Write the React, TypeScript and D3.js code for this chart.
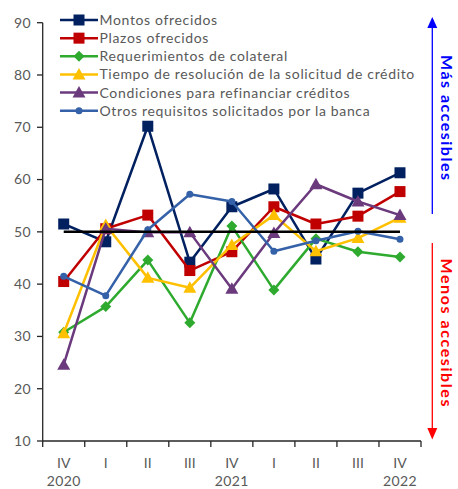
import React from "react";
import * as d3 from "d3";

const categories = ["IV-2020", "I-2021a", "II-2021a", "III-2021a", "IV-2021", "I-2022a", "II-2022a", "III-2022a", "IV-2022"];
const quarterLabels = ["IV", "I", "II", "III", "IV", "I", "II", "III", "IV"];
const yearLabels = ["2020", "", "", "", "2021", "", "", "", "2022"];
const yTicks = [10, 20, 30, 40, 50, 60, 70, 80, 90];

const montos = [51.5, 48.1, 70.2, 44.2, 54.8, 58.2, 44.8, 57.4, 61.3];
const plazos = [40.5, 50.6, 53.2, 42.6, 46.2, 54.8, 51.5, 53.0, 57.7];
const colateral = [30.8, 35.7, 44.6, 32.6, 51.1, 38.9, 48.7, 46.2, 45.2];
const tiempo = [30.6, 51.3, 41.2, 39.3, 47.5, 53.2, 46.3, 48.8, 52.7];
const condiciones = [24.6, 50.6, 49.9, 49.9, 39.1, 49.8, 59.1, 55.8, 53.2];
const otros = [41.5, 37.8, 50.4, 57.2, 55.8, 46.3, 48.3, 50.1, 48.6];

const seriesNames = [
  "Montos ofrecidos",
  "Plazos ofrecidos",
  "Requerimientos de colateral",
  "Tiempo de resolución de la solicitud de crédito",
  "Condiciones para refinanciar créditos",
  "Otros requisitos solicitados por la banca",
];

const series = [
  { name: seriesNames[0], values: montos, color: "#002060", marker: "square" },
  { name: seriesNames[1], values: plazos, color: "#C00000", marker: "square" },
  { name: seriesNames[2], values: colateral, color: "#2EAA2E", marker: "diamond" },
  { name: seriesNames[3], values: tiempo, color: "#FFC000", marker: "triangle" },
  { name: seriesNames[4], values: condiciones, color: "#6B3A7D", marker: "triangle" },
  { name: seriesNames[5], values: otros, color: "#3461A8", marker: "circle" },
];

const W = 458;
const H = 489;
const FONT = "Lato, 'Liberation Sans', sans-serif";

function Marker({ type, x, y, color }: { type: string; x: number; y: number; color: string }) {
  if (type === "square") return <rect x={x - 5.5} y={y - 5.5} width={11} height={11} fill={color} />;
  if (type === "diamond") return <path d={`M${x},${y - 5.5}L${x + 5.5},${y}L${x},${y + 5.5}L${x - 5.5},${y}Z`} fill={color} />;
  if (type === "triangle") return <path d={`M${x},${y - 6.5}L${x + 6.5},${y + 5}L${x - 6.5},${y + 5}Z`} fill={color} />;
  return <circle cx={x} cy={y} r={3.5} fill={color} />;
}

export default function App() {
  const x = d3.scaleBand<string>().domain(categories).range([42.7, 421]);
  const y = d3.scaleLinear().domain([10, 90]).range([441, 22.7]);
  const cx = (c: string) => (x(c) as number) + x.bandwidth() / 2;
  const line = d3
    .line<number>()
    .x((_, i) => cx(categories[i]))
    .y((d) => y(d));

  const tickXs = [...categories.map((c) => x(c) as number), x.range()[1]];

  return (
    <svg width={W} height={H} style={{ position: "absolute", left: 0, top: 0 }} fontFamily={FONT}>
      <rect width={W} height={H} fill="#fff" />
      {/* y axis */}
      <line x1={42.7} x2={42.7} y1={y(90)} y2={y(10)} stroke="#262626" strokeWidth={1.3} />
      {yTicks.map((t) => (
        <g key={t}>
          <line x1={37} x2={42.7} y1={y(t)} y2={y(t)} stroke="#262626" strokeWidth={1.3} />
          <text x={31} y={y(t)} dy="0.35em" textAnchor="end" fontSize={14} letterSpacing={0.4} fill="#595959">
            {t}
          </text>
        </g>
      ))}
      {/* x axis */}
      <line x1={42.7} x2={421} y1={y(10)} y2={y(10)} stroke="#262626" strokeWidth={1.3} />
      {tickXs.map((t, i) => (
        <line key={i} x1={t} x2={t} y1={y(10)} y2={y(10) + 6} stroke="#262626" strokeWidth={1.3} />
      ))}
      {categories.map((c, i) => (
        <g key={c}>
          <text x={cx(c)} y={468} textAnchor="middle" fontSize={14} fill="#595959">
            {quarterLabels[i]}
          </text>
          {yearLabels[i] && (
            <text x={cx(c)} y={485.5} textAnchor="middle" fontSize={14} letterSpacing={0.4} fill="#595959">
              {yearLabels[i]}
            </text>
          )}
        </g>
      ))}
      {/* series */}
      {series.map((s) => (
        <g key={s.name}>
          <path d={line(s.values) as string} fill="none" stroke={s.color} strokeWidth={2.5} strokeLinejoin="round" />
          {s.values.map((v, i) => (
            <Marker key={i} type={s.marker} x={cx(categories[i])} y={y(v)} color={s.color} />
          ))}
        </g>
      ))}
      {/* reference line at 50 */}
      <line x1={cx(categories[0])} x2={cx(categories[8])} y1={y(50)} y2={y(50)} stroke="#000" strokeWidth={2.5} />
      {/* legend */}
      {series.map((s, i) => {
        const ly = 20 + i * 18.15;
        return (
          <g key={s.name}>
            <line x1={60} x2={98} y1={ly} y2={ly} stroke={s.color} strokeWidth={2.5} />
            <Marker type={s.marker} x={79} y={ly} color={s.color} />
            <text x={99.5} y={ly} dy="0.35em" fontSize={14} letterSpacing={0.65} fill="#595959">
              {s.name}
            </text>
          </g>
        );
      })}
      {/* right annotations */}
      <line x1={432.3} x2={432.3} y1={214} y2={26} stroke="#0000FF" strokeWidth={1.3} />
      <path d="M432.3,17L427.3,28L437.3,28Z" fill="#0000FF" />
      <text
        transform="translate(447,117.5) rotate(90)"
        textAnchor="middle"
        dy="0.35em"
        fontSize={16}
        fontWeight="bold"
        fill="#0000FF"
        textLength={125}
        lengthAdjust="spacing"
      >
        Más accesibles
      </text>
      <line x1={432.3} x2={432.3} y1={243} y2={429} stroke="#FF0000" strokeWidth={1.3} />
      <path d="M432.3,439.5L427.3,428L437.3,428Z" fill="#FF0000" />
      <text
        transform="translate(447,332.5) rotate(90)"
        textAnchor="middle"
        dy="0.35em"
        fontSize={16}
        fontWeight="bold"
        fill="#FF0000"
        textLength={148}
        lengthAdjust="spacing"
      >
        Menos accesibles
      </text>
    </svg>
  );
}
